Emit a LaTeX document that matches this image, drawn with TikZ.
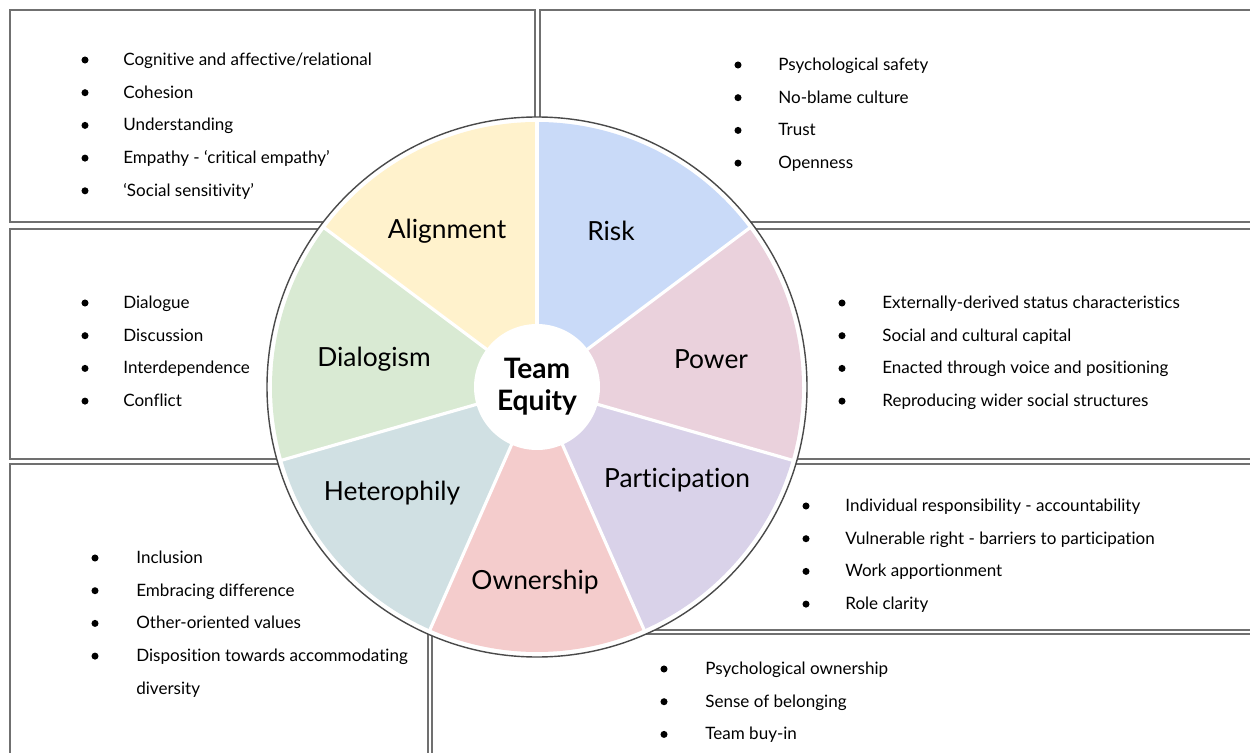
\documentclass[tikz,border=0pt]{standalone}
\usepackage{fontspec}
\setmainfont{Lato}[Ligatures={NoCommon,NoContextual}]
\usepackage{tikz}

\definecolor{boxgray}{HTML}{707070}
\definecolor{rimgray}{HTML}{4A4A4A}
\definecolor{alignfill}{HTML}{FFF2CC}
\definecolor{riskfill}{HTML}{C9DAF8}
\definecolor{powerfill}{HTML}{EAD1DC}
\definecolor{particfill}{HTML}{D9D2E9}
\definecolor{ownerfill}{HTML}{F4CCCC}
\definecolor{heterofill}{HTML}{D0E0E3}
\definecolor{dialogfill}{HTML}{D9EAD3}

\tikzset{
	box/.style={draw=boxgray, line width=0.9pt},
	dot/.style={circle, fill=black, inner sep=0pt, minimum size=4pt},
	item/.style={anchor=west, inner sep=0pt, text height=1.6ex, text depth=.4ex,
		font=\fontsize{9.7}{12}\selectfont},
	wedge/.style={font=\fontsize{15}{18}\selectfont},
}

% bullets: name, x of dot, x of text, y of first line, items
\newcommand{\itemlist}[5]{%
	\foreach \t [count=\i] in {#5}{
		\node[dot] (#1-dot-\i) at (#2,{#4+32.7*(\i-1)}) {};
		\node[item] (#1-\i) at (#3,{#4+32.7*(\i-1)}) {\t};
	}}

\begin{document}
\begin{tikzpicture}[x=0.02cm, y=-0.02cm]
	\useasboundingbox (0,0) rectangle (1250,753);
	\clip (0,0) rectangle (1250,753);
	% boxes, cut by the wheel
	\draw[box] (10,10) rectangle (535,222);
	\draw[box] (540,10) rectangle (1260,222);
	\draw[box] (10,229) rectangle (340,459);
	\draw[box] (740,229) rectangle (1260,459);
	\draw[box] (10,464) rectangle (428,770);
	\draw[box] (640,464) rectangle (1260,630);
	\draw[box] (432,634) rectangle (1260,770);

	\begin{scope}[shift={(537,387)}, y=0.02cm]
		\fill[white, draw=rimgray, line width=0.8pt] (0,0) circle[radius=270];
		\foreach \a/\b/\c in {36.8/90/riskfill, 90/143.2/alignfill, 143.2/196/dialogfill,
			196/246.2/heterofill, 246.2/293.8/ownerfill, 293.8/344/particfill, 344/396.8/powerfill}
			\fill[\c] (0,0) -- (\a:265) arc[start angle=\a, end angle=\b, radius=265] -- cycle;
		\foreach \a in {36.8,90,143.2,196,246.2,293.8,344}
			\draw[white, line width=1.8pt] (0,0) -- (\a:266);
		\fill[white] (0,0) circle[radius=63];
	\end{scope}

	\node[font=\fontsize{16}{18}\selectfont\bfseries, align=center] (team) at (537,387) {Team\\Equity};
	\node[wedge] (align) at (447,231) {Alignment};
	\node[wedge] (risk) at (611,231) {Risk};
	\node[wedge] (power) at (711,359) {Power};
	\node[wedge] (partic) at (677,480) {Participation};
	\node[wedge] (owner) at (535,582) {Ownership};
	\node[wedge] (hetero) at (392,493) {Heterophily};
	\node[wedge] (dialog) at (374,359) {Dialogism};

	\itemlist{al}{85}{123}{60}{Cognitive and affective/relational, Cohesion, Understanding, Empathy - ‘critical empathy’, ‘Social sensitivity’}
	\itemlist{ri}{738}{778}{65}{Psychological safety, No-blame culture, Trust, Openness}
	\itemlist{di}{85}{123}{303}{Dialogue, Discussion, Interdependence, Conflict}
	\itemlist{po}{842}{882}{303}{Externally-derived status characteristics, Social and cultural capital, Enacted through voice and positioning, Reproducing wider social structures}
	\itemlist{pa}{806}{845}{506}{Individual responsibility - accountability, Vulnerable right - barriers to participation, Work apportionment, Role clarity}
	\itemlist{he}{95}{136}{558}{Inclusion, Embracing difference, Other-oriented values, Disposition towards accommodating}
	\node[item] (he-5) at (136,689) {diversity};
	\itemlist{ow}{664}{705}{669}{Psychological ownership, Sense of belonging, Team buy-in}
\end{tikzpicture}
\end{document}
